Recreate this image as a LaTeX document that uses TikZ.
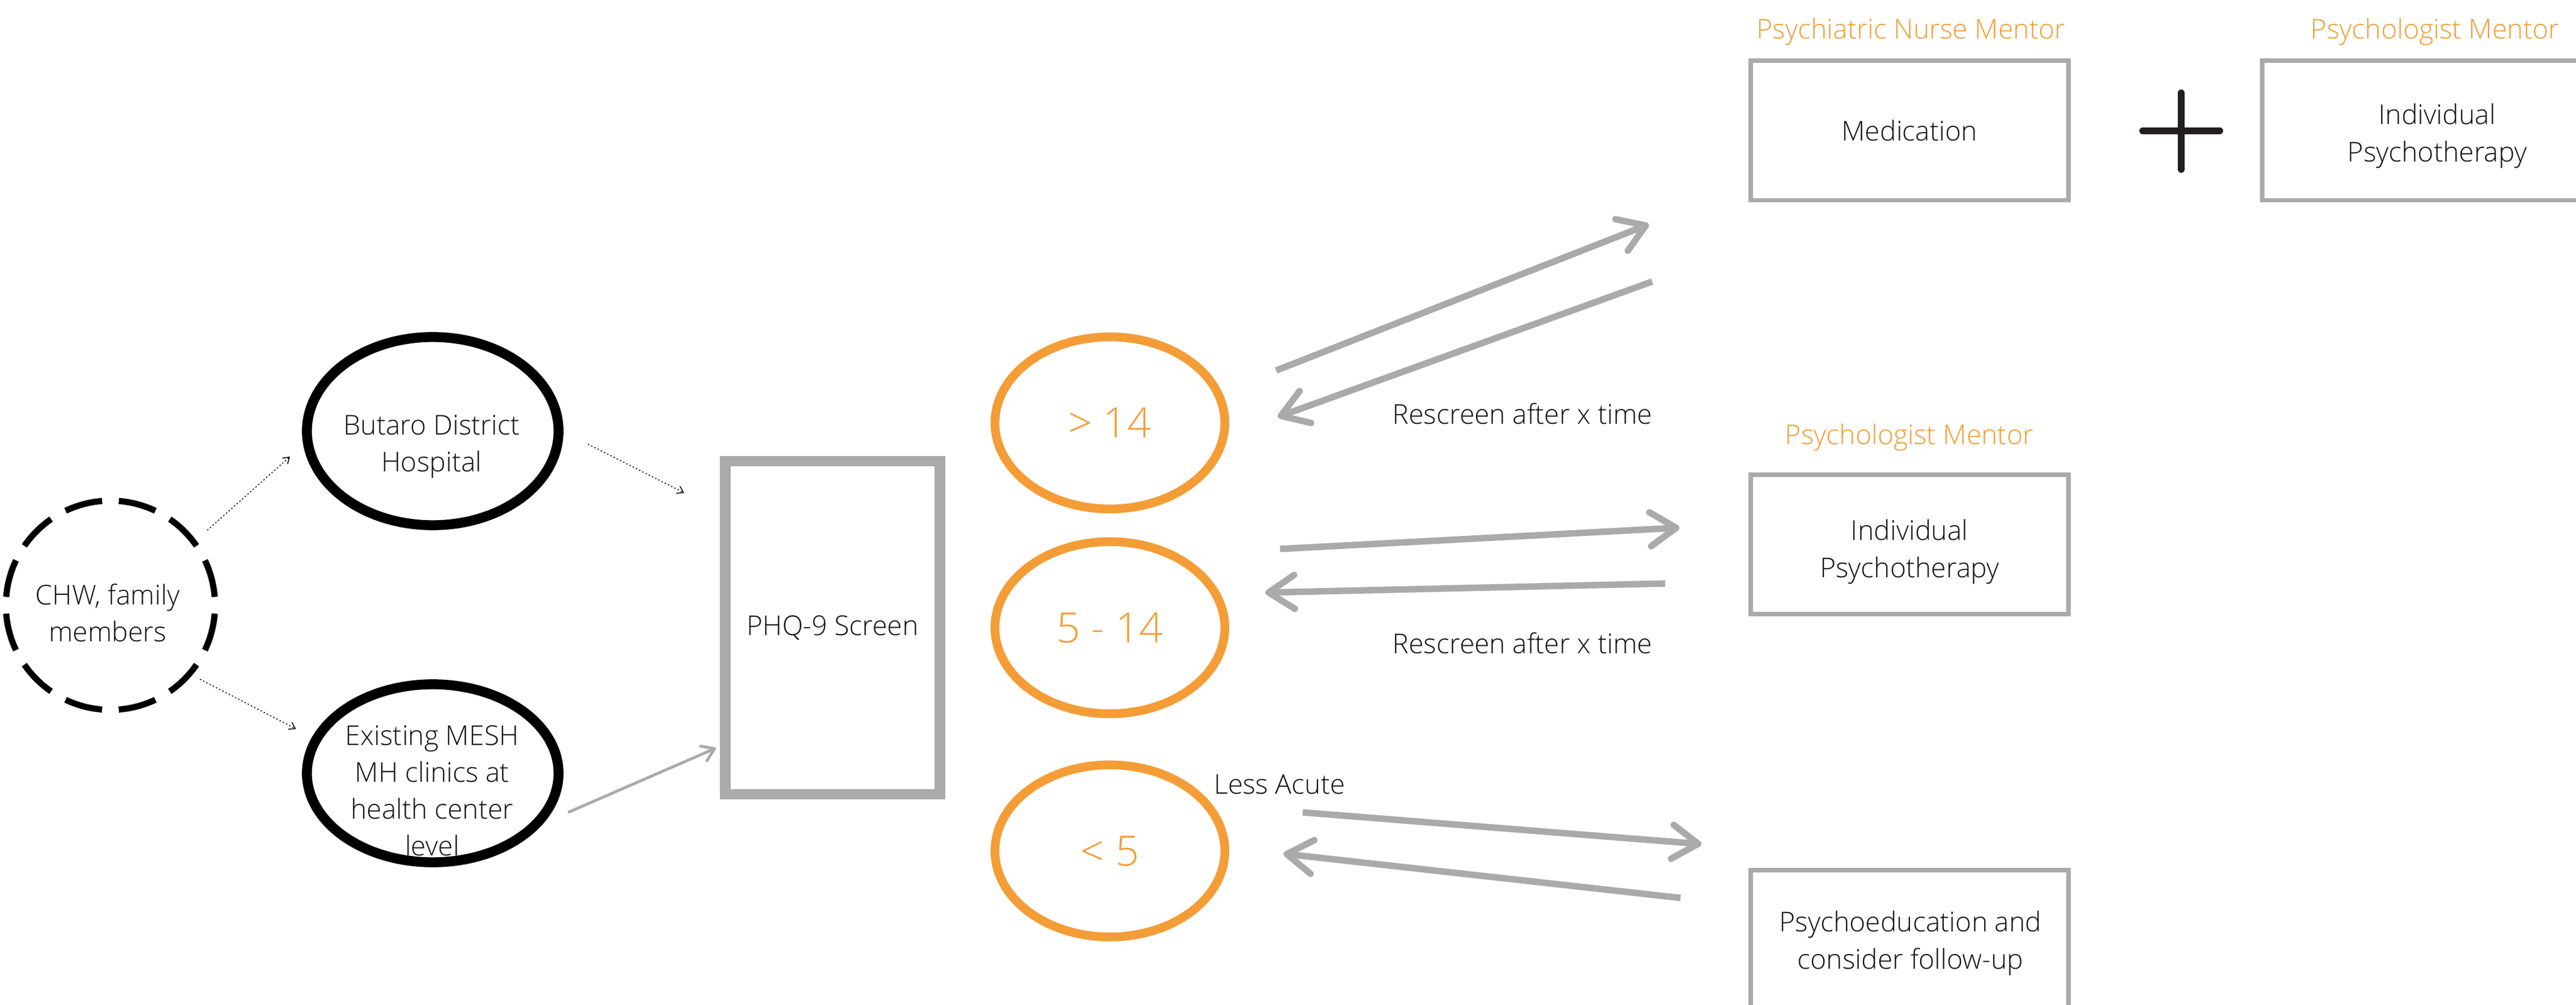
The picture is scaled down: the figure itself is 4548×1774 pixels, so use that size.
\documentclass[tikz,border=0pt]{standalone}
\usepackage{fontspec}
\IfFontExistsTF{Open Sans Light}{\setmainfont{Open Sans Light}}{\setmainfont{Open Sans}}
\usetikzlibrary{shapes.geometric,arrows.meta}
\definecolor{orng}{HTML}{F49D37}
\definecolor{gry}{HTML}{AAAAAA}
\definecolor{ink}{HTML}{141414}
\definecolor{plusc}{HTML}{231F20}
\tikzset{
  txt/.style={font=\fontsize{13.7}{18.5}\selectfont, text=ink, align=center, inner sep=0pt},
  otxt/.style={font=\fontsize{13.7}{18.5}\selectfont, text=orng, inner sep=0pt},
  numtxt/.style={font=\fontsize{21}{25}\selectfont, text=orng},
  dashcirc/.style={circle, draw=black, line width=3.1pt, dash pattern=on 19.09pt off 8.4pt, dash phase=23.3pt, minimum size=3.69cm, inner sep=0pt},
  blackell/.style={ellipse, draw=black, line width=4.98pt, inner sep=0pt},
  orell/.style={ellipse, draw=orng, line width=4.4pt, minimum width=4.056cm, minimum height=3.036cm, inner sep=0pt, numtxt},
  greybox/.style={rectangle, draw=gry, line width=2.24pt, minimum width=5.608cm, minimum height=2.46cm, inner sep=0pt, txt},
  bigarrow/.style={draw=gry, line width=3.26pt, -{Straight Barb[length=13pt,width=17pt,round]}},
  smallarrow/.style={draw=gry, line width=1.42pt, -{Straight Barb[length=6pt,width=8pt,round]}},
  dotarrow/.style={draw=black, line width=0.45pt, dash pattern=on 0.7pt off 1.1pt, -{Straight Barb[length=3pt,width=4pt]}},
  plusbar/.style={draw=plusc, line width=3.4pt, line cap=round}
}
\begin{document}
\begin{tikzpicture}[x=0.01cm, y=-0.01cm]
\useasboundingbox (0,0) rectangle (4548,1774);

% left side
\node[dashcirc] (chw) at (195,1068.4) {};
\node[txt] (chwt) at (190,1082) {CHW, family\\members};
\node[blackell, minimum width=4.44cm, minimum height=3.32cm] (butaro) at (764,761) {};
\node[txt] (butarot) at (762,788) {Butaro District\\Hospital};
\node[blackell, minimum width=4.44cm, minimum height=3.14cm] (mesh) at (764,1365) {};
\node[txt] (mesht) at (763,1396) {Existing MESH\\MH clinics at\\health center\\level};

% PHQ box
\node[rectangle, draw=gry, line width=5.2pt, minimum width=3.79cm, minimum height=5.87cm, inner sep=0pt, txt] (phq) at (1470,1108) {PHQ-9 Screen};

% score ellipses
\node[orell] (hi) at (1959.5,746.5) {> 14};
\node[orell] (mid) at (1959.5,1108) {5 - 14};
\node[orell] (lo) at (1959.5,1502) {< 5};

% right column
\node[otxt, anchor=base] (pnm) at (3374,69) {Psychiatric Nurse Mentor};
\node[greybox] (med) at (3371.2,230.5) {Medication};
\node[otxt, anchor=base] (pm1) at (4299,69) {Psychologist Mentor};
\node[greybox, minimum width=6.18cm] (ipsy1) at (4303,230.5) {};
\node[txt] (ipsy1t) at (4303,240) {Individual\\Psychotherapy};
\node[otxt, anchor=base] (pm2) at (3371,785) {Psychologist Mentor};
\node[greybox] (ipsy2) at (3371.2,961) {};
\node[txt] (ipsy2t) at (3371.2,974) {Individual\\Psychotherapy};
\node[greybox] (psyed) at (3371.2,1659) {};
\node[txt] (psyedt) at (3373,1665) {Psychoeducation and\\consider follow-up};

% plus sign
\coordinate (pl) at (3783,231);
\coordinate (pr) at (3919,231);
\coordinate (pt) at (3851,164);
\coordinate (pb) at (3851,299);
\draw[plusbar] (pl) -- (pr);
\draw[plusbar] (pt) -- (pb);

% labels
\node[txt, anchor=base] (rs1) at (2688,748.5) {Rescreen after x time};
\node[txt, anchor=base] (rs2) at (2688,1154) {Rescreen after x time};
\node[txt, anchor=base] (la) at (2259,1401) {Less Acute};

% connector end points
\coordinate (d1s) at (366,936);
\coordinate (d1e) at (512,806);
\coordinate (d2s) at (353,1199);
\coordinate (d2e) at (522.6,1286.6);
\coordinate (d3s) at (1038,784);
\coordinate (d3e) at (1208,870);
\coordinate (g0s) at (1003,1434);
\coordinate (g0e) at (1264,1320.5);
\coordinate (a1s) at (2253,654);
\coordinate (a1e) at (2911,396);
\coordinate (a2s) at (2917,497);
\coordinate (a2e) at (2256,736);
\coordinate (a3s) at (2260,969);
\coordinate (a3e) at (2965,931.5);
\coordinate (a4s) at (2940,1030);
\coordinate (a4e) at (2234,1046);
\coordinate (a5s) at (2300,1434);
\coordinate (a5e) at (3004,1490);
\coordinate (a6s) at (2967,1585);
\coordinate (a6e) at (2266,1507);

\draw[dotarrow] (d1s) -- (d1e);
\draw[dotarrow] (d2s) -- (d2e);
\draw[dotarrow] (d3s) -- (d3e);
\draw[smallarrow] (g0s) -- (g0e);
\draw[bigarrow] (a1s) -- (a1e);
\draw[bigarrow] (a2s) -- (a2e);
\draw[bigarrow] (a3s) -- (a3e);
\draw[bigarrow] (a4s) -- (a4e);
\draw[bigarrow] (a5s) -- (a5e);
\draw[bigarrow] (a6s) -- (a6e);
\end{tikzpicture}
\end{document}
